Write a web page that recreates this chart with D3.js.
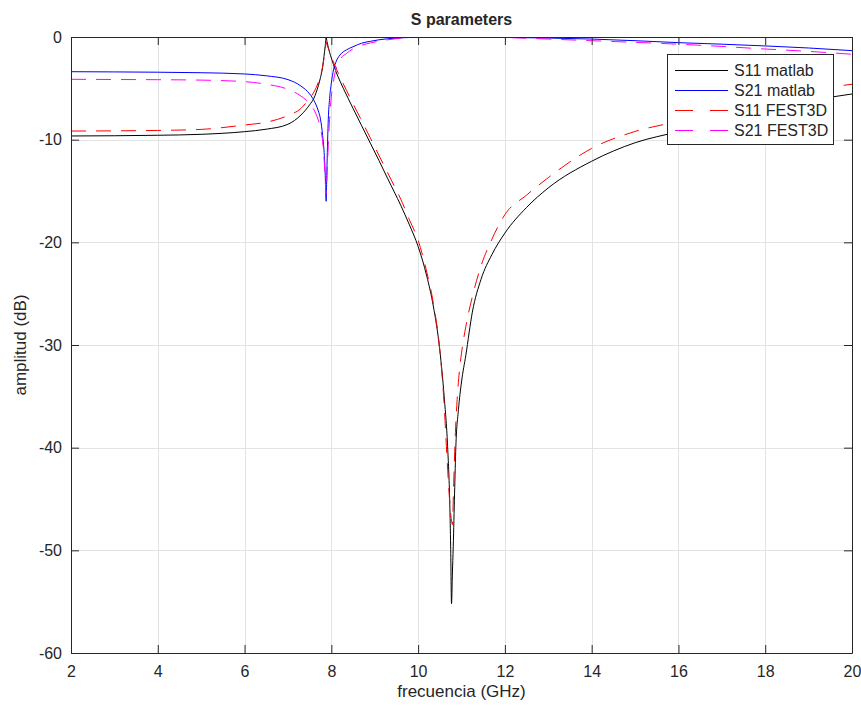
<!DOCTYPE html>
<html>
<head>
<meta charset="utf-8">
<script src="https://cdn.jsdelivr.net/npm/d3@7"></script>
<style>
  html, body { margin: 0; padding: 0; background: #fff; }
  svg { display: block; }
  text { font-family: "Liberation Sans", Arial, Helvetica, sans-serif; fill: #262626; }
</style>
</head>
<body>
<svg id="chart" width="861" height="708"></svg>
<script>
// Frequency grid (GHz) for the MATLAB model
const freqMatlab = [2,3,4,5,6,6.5,7,7.3,7.5,7.6,7.7,7.75,7.8,7.83,7.86,7.88,7.9,7.93,7.96,8.0,
  8.05,8.1,8.2,8.35,8.5,8.7,8.9,9.1,9.3,9.6,9.8,10.0,10.2,10.35,10.5,10.6,10.68,10.73,10.75,10.77,
  10.79,10.81,10.84,10.87,10.93,11.0,11.1,11.25,11.45,11.7,12,12.5,13,14,15,16,17,18,19,20];

// |S11| in dB, MATLAB model
const s11Matlab = [-9.64,-9.62,-9.57,-9.48,-9.22,-8.98,-8.5,-7.6,-6.6,-5.95,-4.75,-3.95,-2.9,-1.9,-0.85,-0.05,-0.45,-1.0,-1.5,-2.05,
  -2.7,-3.3,-4.3,-5.65,-6.95,-8.65,-10.35,-12.05,-13.8,-16.4,-18.3,-20.4,-23.3,-26.2,-30.5,-35,-39.9,-45.5,-49.6,-55.2,
  -52.3,-49.6,-44.5,-39.9,-36.3,-33.6,-31,-26.8,-23.6,-21.2,-19.1,-16.6,-14.7,-12.1,-10.3,-9.2,-7.95,-6.95,-6.2,-5.55];

// |S21| in dB, MATLAB model
const s21Matlab = [-3.38,-3.40,-3.43,-3.48,-3.6,-3.78,-4.15,-4.78,-5.55,-6.2,-7.2,-8.0,-9.6,-11.0,-13.5,-16.0,-12.5,-8.0,-6.0,-4.5,
  -3.2,-2.5,-1.75,-1.25,-0.95,-0.6,-0.42,-0.27,-0.17,-0.08,-0.05,-0.03,-0.02,-0.01,-0.01,0,0,0,0,0,
  0,0,0,0,0,-0.01,-0.01,-0.01,-0.02,-0.03,-0.04,-0.07,-0.1,-0.2,-0.36,-0.55,-0.7,-0.87,-1.07,-1.33];

// Frequency grid (GHz) for the FEST3D simulation
const freqFest = [2,3,4,5,6,6.5,7,7.3,7.5,7.6,7.7,7.75,7.8,7.83,7.86,7.88,7.9,7.93,7.96,8.0,
  8.05,8.1,8.2,8.35,8.5,8.7,8.9,9.1,9.3,9.6,9.8,10.0,10.2,10.35,10.5,10.6,10.66,10.72,10.76,10.79,
  10.82,10.86,10.9,10.95,11.0,11.1,11.25,11.45,11.7,12,12.5,13,14,15,16,17,18,19,20];

// |S11| in dB, FEST3D
const s11Fest = [-9.16,-9.14,-9.1,-9.0,-8.57,-8.3,-7.65,-6.95,-5.95,-5.35,-4.4,-3.7,-2.9,-2.1,-1.2,-0.5,-0.75,-1.1,-1.45,-1.95,
  -2.45,-2.95,-3.9,-5.2,-6.5,-8.15,-9.85,-11.55,-13.25,-15.8,-17.8,-19.8,-22.9,-25.9,-30.5,-35.8,-40.5,-44.8,-46.8,-47.5,
  -43.5,-38.5,-35.3,-32.6,-30.8,-28.2,-25.3,-22.3,-19.7,-17.3,-15.4,-13.7,-10.85,-9.2,-8.2,-7.0,-6.0,-5.2,-4.6];

// |S21| in dB, FEST3D
const s21Fest = [-4.12,-4.14,-4.16,-4.2,-4.35,-4.6,-5.1,-5.75,-6.5,-7.1,-8.1,-8.9,-10.2,-11.6,-14.0,-15.3,-13.5,-10.5,-8.0,-5.8,
  -4.3,-3.2,-2.2,-1.6,-1.15,-0.8,-0.58,-0.4,-0.27,-0.12,-0.07,-0.04,-0.02,-0.01,-0.01,0,0,0,0,0,
  0,0,0,0,-0.01,-0.01,-0.02,-0.03,-0.04,-0.05,-0.12,-0.2,-0.36,-0.52,-0.7,-0.92,-1.17,-1.4,-1.68];

const xTicks = [2,4,6,8,10,12,14,16,18,20];
const yTicks = [0,-10,-20,-30,-40,-50,-60];

const seriesDefs = [
  { name: "S11 matlab", freq: freqMatlab, values: s11Matlab, color: "#000000", dash: null },
  { name: "S21 matlab", freq: freqMatlab, values: s21Matlab, color: "#0000ff", dash: null },
  { name: "S11 FEST3D", freq: freqFest,   values: s11Fest,   color: "#ff0000", dash: "15,10" },
  { name: "S21 FEST3D", freq: freqFest,   values: s21Fest,   color: "#ff00ff", dash: "15,10" }
];

const svg = d3.select("#chart");
const m = { left: 71, right: 9, top: 37, bottom: 55 };
const W = 861, H = 708;
const x = d3.scaleLinear().domain([2, 20]).range([m.left, W - m.right]);
const y = d3.scaleLinear().domain([-60, 0]).range([H - m.bottom, m.top]);
const axisColor = "#262626";
const fontSize = "16px";

svg.append("defs").append("clipPath").attr("id", "plotClip")
  .append("rect")
  .attr("x", x(2)).attr("y", y(0))
  .attr("width", x(20) - x(2)).attr("height", y(-60) - y(0));

// grid lines
const grid = svg.append("g").attr("stroke", "#e3e3e3").attr("stroke-width", 1);
grid.selectAll("line.gx").data(xTicks).join("line")
  .attr("x1", d => Math.round(x(d)) + 0.5).attr("x2", d => Math.round(x(d)) + 0.5)
  .attr("y1", y(0)).attr("y2", y(-60));
grid.selectAll("line.gy").data(yTicks).join("line")
  .attr("y1", d => Math.round(y(d)) + 0.5).attr("y2", d => Math.round(y(d)) + 0.5)
  .attr("x1", x(2)).attr("x2", x(20));

// curves
const line = d3.line()
  .x(d => x(d[0]))
  .y(d => y(d[1]))
  .curve(d3.curveMonotoneX);

const curves = svg.append("g").attr("clip-path", "url(#plotClip)");
seriesDefs.forEach(s => {
  curves.append("path")
    .datum(s.freq.map((f, i) => [f, s.values[i]]))
    .attr("fill", "none")
    .attr("stroke", s.color)
    .attr("stroke-width", 1)
    .attr("stroke-dasharray", s.dash)
    .attr("d", line);
});

// axes with inward ticks on all four sides
const tick = 8;
const plainNumber = d => String(d);
function styleAxis(g) {
  g.selectAll("path.domain").attr("stroke", axisColor);
  g.selectAll(".tick line").attr("stroke", axisColor);
  g.selectAll(".tick text").attr("fill", axisColor)
    .style("font-family", '"Liberation Sans", Arial, sans-serif')
    .style("font-size", fontSize);
}
svg.append("g")
  .attr("transform", `translate(0,${y(-60)})`)
  .call(d3.axisBottom(x).tickValues(xTicks).tickFormat(plainNumber)
    .tickSizeInner(-tick).tickSizeOuter(0).tickPadding(13))
  .call(styleAxis);
svg.append("g")
  .attr("transform", `translate(0,${y(0)})`)
  .call(d3.axisTop(x).tickValues(xTicks).tickSizeInner(-tick).tickSizeOuter(0).tickFormat(""))
  .call(styleAxis);
svg.append("g")
  .attr("transform", `translate(${x(2)},0)`)
  .call(d3.axisLeft(y).tickValues(yTicks).tickFormat(plainNumber)
    .tickSizeInner(-tick).tickSizeOuter(0).tickPadding(9))
  .call(styleAxis);
svg.append("g")
  .attr("transform", `translate(${x(20)},0)`)
  .call(d3.axisRight(y).tickValues(yTicks).tickSizeInner(-tick).tickSizeOuter(0).tickFormat(""))
  .call(styleAxis);

// title and axis labels
svg.append("text")
  .attr("x", (x(2) + x(20)) / 2).attr("y", 25)
  .attr("text-anchor", "middle")
  .style("font-size", "16px").style("font-weight", "bold")
  .attr("fill", "#000")
  .text("S parameters");
svg.append("text")
  .attr("x", (x(2) + x(20)) / 2).attr("y", 697)
  .attr("text-anchor", "middle")
  .style("font-size", "17px")
  .text("frecuencia (GHz)");
svg.append("text")
  .attr("transform", `translate(26,${(y(0) + y(-60)) / 2}) rotate(-90)`)
  .attr("text-anchor", "middle")
  .style("font-size", "17px")
  .text("amplitud (dB)");

// legend
const lg = svg.append("g").attr("transform", "translate(667,54)");
lg.append("rect")
  .attr("x", 0.5).attr("y", 0.5).attr("width", 166).attr("height", 90)
  .attr("fill", "#fff").attr("stroke", axisColor).attr("stroke-width", 1);
const rows = lg.selectAll("g.row").data(seriesDefs).join("g")
  .attr("transform", (d, i) => `translate(0,${16.5 + i * 20})`);
rows.append("line")
  .attr("x1", 8).attr("x2", 61)
  .attr("stroke", d => d.color).attr("stroke-width", 1)
  .attr("stroke-dasharray", d => d.dash ? "18,17" : null);
rows.append("text")
  .attr("x", 67).attr("dy", "0.35em")
  .style("font-size", fontSize)
  .attr("fill", "#000")
  .text(d => d.name);
</script>
</body>
</html>
